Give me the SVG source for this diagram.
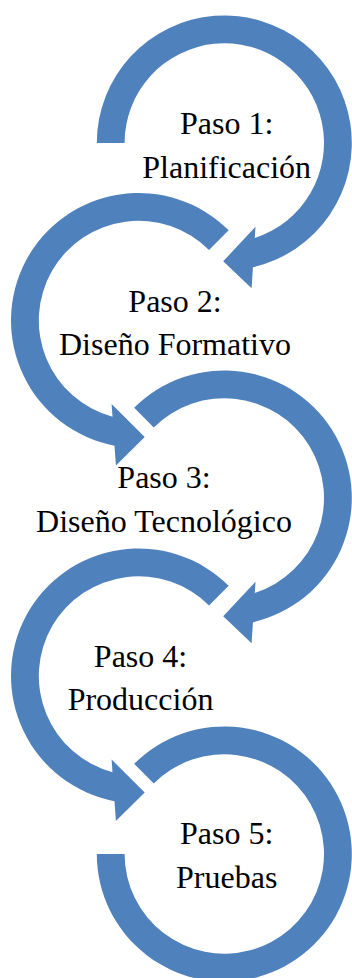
<svg xmlns="http://www.w3.org/2000/svg" xmlns:xlink="http://www.w3.org/1999/xlink" width="352" height="978" viewBox="0 0 352 978">
  <style>
    .ring { fill: #4F81BD; stroke: none; }
    .lbl { font-family: "Liberation Serif", "DejaVu Serif", serif; font-size: 32px; fill: #000000; text-anchor: middle; }
  </style>
  <defs>
    <path id="arrowRight" d="M -90.16,-90.16 A 127.5 127.5 0 1 1 28.63,124.24 L 27.3,145.3 L -1.1,118.3 L 31.2,83.7 L 30.49,94.92 A 99.7 99.7 0 1 0 -70.50,-70.50 Z"/>
    <path id="arrowLeft" d="M 90.16,-90.16 A 127.5 127.5 0 1 0 -23.99,125.22 L -22.6,145.1 L 6.2,116.5 L -26.9,83.5 L -26.01,96.25 A 99.7 99.7 0 1 1 70.50,-70.50 Z"/>
  </defs>
  <rect x="0" y="0" width="352" height="978" fill="#ffffff"/>

  <g id="step1">
    <path class="ring" transform="translate(224.3,143)" d="M -127.5,0 A 127.5 127.5 0 1 1 28.63,124.24 L 27.3,145.3 L -1.1,118.3 L 31.2,83.7 L 30.49,94.92 A 99.7 99.7 0 1 0 -99.7,0 Z"/>
    <text class="lbl" x="226.7" y="134.3">Paso 1:</text>
    <text class="lbl" x="226.7" y="178.3">Planificación</text>
  </g>

  <g id="step2">
    <use class="ring" xlink:href="#arrowLeft" href="#arrowLeft" transform="translate(138.5,320.5)"/>
    <text class="lbl" x="175" y="311.7">Paso 2:</text>
    <text class="lbl" x="175" y="355">Diseño Formativo</text>
  </g>

  <g id="step3">
    <use class="ring" xlink:href="#arrowRight" href="#arrowRight" transform="translate(224.3,498)"/>
    <text class="lbl" x="164" y="488.3">Paso 3:</text>
    <text class="lbl" x="164" y="531.7">Diseño Tecnológico</text>
  </g>

  <g id="step4">
    <use class="ring" xlink:href="#arrowLeft" href="#arrowLeft" transform="translate(138.5,676)"/>
    <text class="lbl" x="140.5" y="666.7">Paso 4:</text>
    <text class="lbl" x="140.5" y="710">Producción</text>
  </g>

  <g id="step5">
    <path class="ring" transform="translate(224.3,854)" d="M -90.16,-90.16 A 127.5 127.5 0 1 1 -127.5,0 L -99.7,0 A 99.7 99.7 0 1 0 -70.50,-70.50 Z"/>
    <text class="lbl" x="226.7" y="844">Paso 5:</text>
    <text class="lbl" x="226.7" y="888.3">Pruebas</text>
  </g>
</svg>
